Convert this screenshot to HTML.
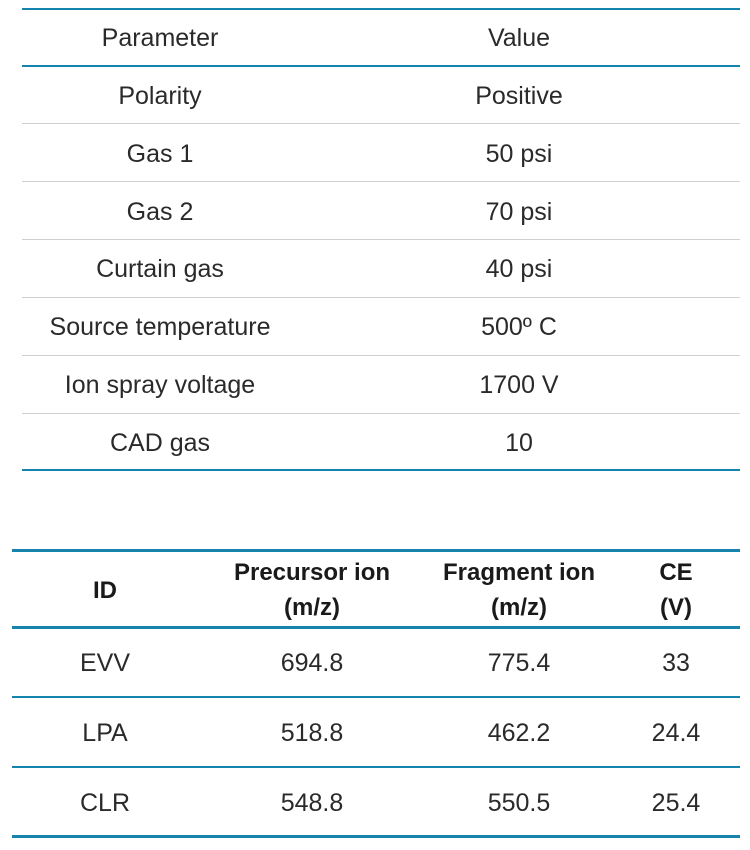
<!DOCTYPE html>
<html><head><meta charset="utf-8"><style>
body{margin:0;width:750px;height:850px;background:#fff;position:relative;font-family:"Liberation Sans",sans-serif;color:#2a2a2a;overflow:hidden}
.l{position:absolute}
.t{position:absolute;font-size:25px;transform:translateX(-50%);white-space:nowrap;line-height:28px}
.h{font-weight:bold;font-size:24px;text-align:center;line-height:35px;color:#1a1a1a}
</style></head><body>
<div class="l" style="left:22px;width:718px;top:8px;height:2px;background:#1583ab"></div>
<div class="l" style="left:22px;width:718px;top:65px;height:2px;background:#1583ab"></div>
<div class="l" style="left:22px;width:718px;top:123px;height:1px;background:#d0d0d0"></div>
<div class="l" style="left:22px;width:718px;top:181px;height:1px;background:#d0d0d0"></div>
<div class="l" style="left:22px;width:718px;top:239px;height:1px;background:#d0d0d0"></div>
<div class="l" style="left:22px;width:718px;top:297px;height:1px;background:#d0d0d0"></div>
<div class="l" style="left:22px;width:718px;top:355px;height:1px;background:#d0d0d0"></div>
<div class="l" style="left:22px;width:718px;top:413px;height:1px;background:#d0d0d0"></div>
<div class="l" style="left:22px;width:718px;top:469px;height:2px;background:#1583ab"></div>

<div class="t" style="left:160px;top:24px">Parameter</div><div class="t" style="left:519px;top:24px">Value</div>
<div class="t" style="left:160px;top:82px">Polarity</div><div class="t" style="left:519px;top:82px">Positive</div>
<div class="t" style="left:160px;top:140px">Gas 1</div><div class="t" style="left:519px;top:140px">50 psi</div>
<div class="t" style="left:160px;top:198px">Gas 2</div><div class="t" style="left:519px;top:198px">70 psi</div>
<div class="t" style="left:160px;top:255px">Curtain gas</div><div class="t" style="left:519px;top:255px">40 psi</div>
<div class="t" style="left:160px;top:313px">Source temperature</div><div class="t" style="left:519px;top:313px">500º C</div>
<div class="t" style="left:160px;top:371px">Ion spray voltage</div><div class="t" style="left:519px;top:371px">1700 V</div>
<div class="t" style="left:160px;top:429px">CAD gas</div><div class="t" style="left:519px;top:429px">10</div>

<div class="l" style="left:12px;width:728px;top:549px;height:3px;background:#1583ab"></div>
<div class="l" style="left:12px;width:728px;top:626px;height:3px;background:#1583ab"></div>
<div class="l" style="left:12px;width:728px;top:696px;height:2px;background:#1583ab"></div>
<div class="l" style="left:12px;width:728px;top:766px;height:2px;background:#1583ab"></div>
<div class="l" style="left:12px;width:728px;top:835px;height:3px;background:#1583ab"></div>

<div class="t h" style="left:105px;top:573px">ID</div>
<div class="t h" style="left:312px;top:555px">Precursor ion<br>(m/z)</div>
<div class="t h" style="left:519px;top:555px">Fragment ion<br>(m/z)</div>
<div class="t h" style="left:676px;top:555px">CE<br>(V)</div>

<div class="t" style="left:105px;top:649px">EVV</div><div class="t" style="left:312px;top:649px">694.8</div><div class="t" style="left:519px;top:649px">775.4</div><div class="t" style="left:676px;top:649px">33</div>
<div class="t" style="left:105px;top:719px">LPA</div><div class="t" style="left:312px;top:719px">518.8</div><div class="t" style="left:519px;top:719px">462.2</div><div class="t" style="left:676px;top:719px">24.4</div>
<div class="t" style="left:105px;top:789px">CLR</div><div class="t" style="left:312px;top:789px">548.8</div><div class="t" style="left:519px;top:789px">550.5</div><div class="t" style="left:676px;top:789px">25.4</div>
</body></html>
